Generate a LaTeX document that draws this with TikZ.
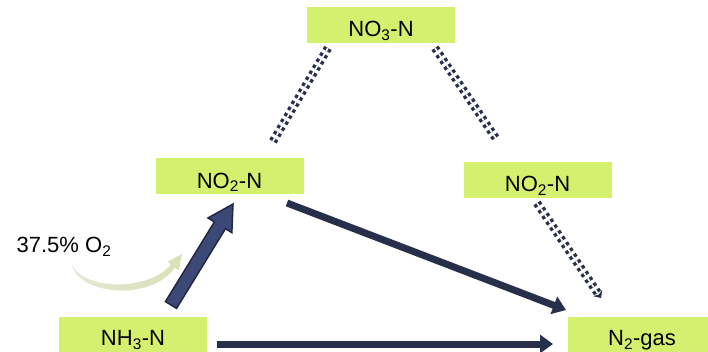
\documentclass[tikz,border=0pt]{standalone}
\usepackage{fontspec}
\setmainfont{Liberation Sans}
\usetikzlibrary{calc,arrows.meta}
\definecolor{boxgreen}{RGB}{213,240,110}
\definecolor{navy}{RGB}{40,47,75}
\definecolor{navyfill}{RGB}{60,72,118}
\definecolor{navyedge}{RGB}{33,40,66}
\definecolor{curveA}{RGB}{228,232,212}
\definecolor{curveB}{RGB}{165,173,132}
\definecolor{curveC}{RGB}{215,225,180}
\begin{document}
\begin{tikzpicture}[x=1pt,y=-1pt,
  box/.style={fill=boxgreen, minimum width=148pt, minimum height=36pt, inner sep=0pt,
    text height=23.4pt, text depth=0pt, font=\fontsize{22}{26}\selectfont},
  lowbox/.style={box, text height=21.4pt},
  lbl/.style={font=\fontsize{22}{26}\selectfont, inner sep=0pt},
  thickarrow/.style={draw=navy, line width=7pt, -{Triangle[length=13pt,width=18pt]}},
  dotline/.style={draw=navy, double=white, double distance=1.6pt, line width=3.4pt,
    dash pattern=on 3.4pt off 3.6pt},
  blockarrow/.style={fill=navyfill, draw=navyedge, line width=1.5pt, line join=miter}
]
\useasboundingbox (0,0) rectangle (708,352);
\fill[white] (0,0) rectangle (708,352);

% boxes
\node[box] (no3) at (381,25) {NO\textsubscript{3}-N};
\node[box] (no2l) at (229.5,176.5) {NO\textsubscript{2}-N};
\node[box] (no2r) at (537.5,180) {NO\textsubscript{2}-N};
\node[lowbox] (nh3) at (133,335) {NH\textsubscript{3}-N};
\node[lowbox] (n2) at (642,335) {N\textsubscript{2}-gas};
\node[lbl] (o2) at (64,247) {37.5\% O\textsubscript{2}};

% connector end points
\coordinate (bt) at (171,305);
\coordinate (bh) at (233,204);
\coordinate (a1s) at (287,203);
\coordinate (a1e) at (566,310);
\coordinate (a2s) at (217,344);
\coordinate (a2e) at (553,344);
\coordinate (d1s) at (328,48);
\coordinate (d1e) at (272,143);
\coordinate (d2s) at (435,48);
\coordinate (d2e) at (497,140);
\coordinate (d3s) at (537,203);
\coordinate (d3e) at (601,298);

% dotted connectors
\draw[dotline] (d1s) -- (d1e);
\draw[dotline] (d2s) -- (d2e);
\draw[dotline, -{Stealth[length=6pt,width=11pt]}] (d3s) -- (d3e);

% solid thick arrows
\draw[thickarrow] (a1s) -- (a1e);
\draw[thickarrow] (a2s) -- (a2e);

% block arrow NH3 -> NO2
\coordinate (bb) at ($(bh)!25pt!(bt)$);
\draw[blockarrow]
  ($(bt)!6.5pt!90:(bh)$) -- ($(bb)!6.5pt!90:(bh)$) -- ($(bb)!14pt!90:(bh)$) -- (bh)
  -- ($(bb)!14pt!-90:(bh)$) -- ($(bb)!6.5pt!-90:(bh)$) -- ($(bt)!6.5pt!-90:(bh)$) -- cycle;

% curved oxygen arrow
\shade[left color=curveA, middle color=curveB, right color=curveC]
  (72,265) .. controls (80,295) and (150,302) .. (175,267.5)
  -- (178.5,270.3) -- (182,254) -- (167.5,261.7) -- (171,264.5)
  .. controls (148,292) and (84,290) .. (72,265) -- cycle;
\end{tikzpicture}
\end{document}
